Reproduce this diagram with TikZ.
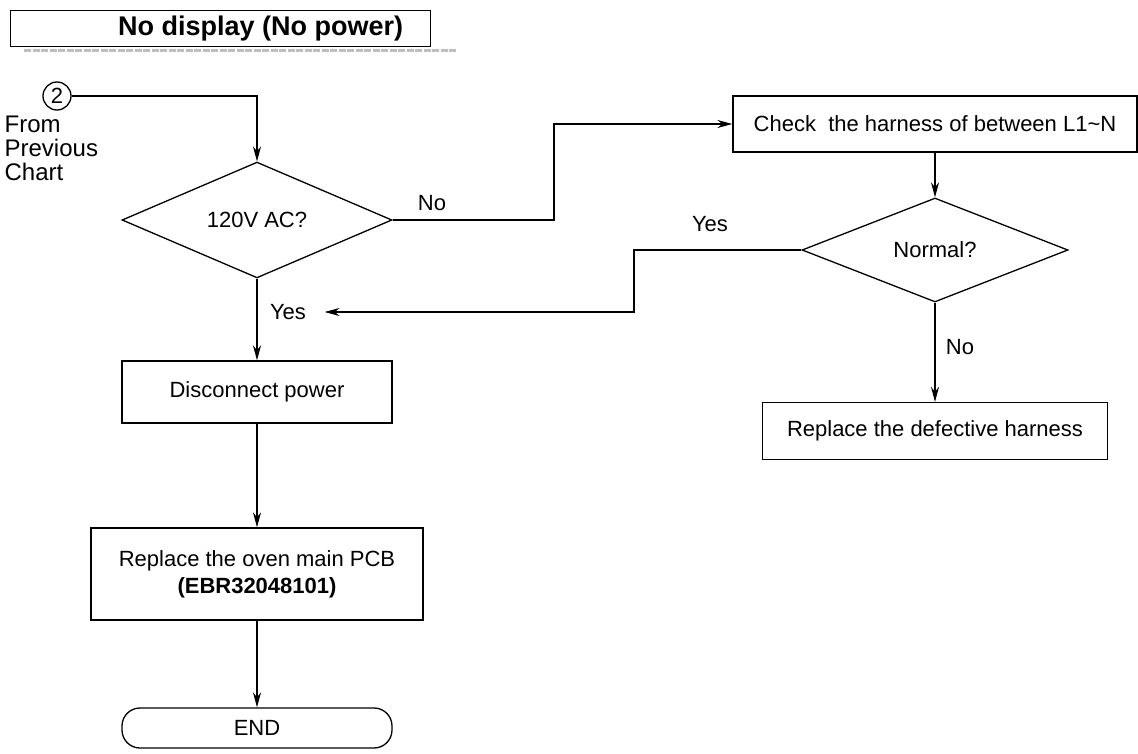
\documentclass[tikz,border=0pt]{standalone}
\usepackage{fontspec}
\setmainfont{Liberation Sans}
\usetikzlibrary{arrows.meta,shapes.geometric,calc,positioning}
\tikzset{
  every picture/.style={line width=1.3pt, line join=miter,
    >={Stealth[length=15pt,width=8pt]}},
  every node/.style={font=\fontsize{22}{27}\selectfont, inner sep=1pt},
  % Kaesten
  box/.style={draw, rectangle, inner sep=0pt},
  dec/.style={draw, diamond, inner sep=0pt},
  term/.style={draw, rectangle, rounded corners=18pt, inner sep=0pt},
  flow/.style={->},
}

\begin{document}
\begin{tikzpicture}[x=1pt, y=-1pt]
  \useasboundingbox (0,0) rectangle (1138,754);
  % Titel
  \node[box, minimum width=420, minimum height=36, anchor=north west,
    font=\fontsize{27}{30}\selectfont\bfseries] (title) at (10,10) {\hspace{80pt}No display (No power)};
  \draw[gray!50, line width=3pt, dash pattern=on 7pt off 1.5pt] (24,51) -- (456,51);
  % Einstieg
  \node[draw, circle, minimum size=28, inner sep=0pt, font=\fontsize{22}{24}\selectfont] (circ) at (57,96) {2};
  \node[anchor=north west, align=left, font=\fontsize{24}{24}\selectfont] (from) at (3,114) {From\\Previous\\Chart};
  % linker Zweig
  \node[dec, minimum width=270, minimum height=112] (d1) at (257,220) {120V AC?};
  \node (no1) at (432,203) {No};
  \node (yes1) at (288,312) {Yes};
  \node[box, minimum width=270, minimum height=62] (disc) at (257,392) {Disconnect power};
  \node[box, minimum width=332, minimum height=92, align=center] (pcb) at (257,574)
    {Replace the oven main PCB\\\textbf{(EBR32048101)}};
  \node[term, minimum width=270, minimum height=40] (fin) at (257,728) {END};
  % rechter Zweig
  \node[box, minimum width=404, minimum height=56] (chk) at (935,124) {Check\ \ the harness of between L1\textasciitilde N};
  \node[dec, minimum width=266, minimum height=104] (d2) at (935,250) {Normal?};
  \node (yes2) at (710,224) {Yes};
  \node (no2) at (960,347) {No};
  \node[box, minimum width=345, minimum height=57] (rep) at (935,431) {Replace the defective harness};
  % Hilfspunkte fuer die Knicke
  \coordinate (jogno) at (554,0);
  \coordinate (jogyes) at (634,0);
  % Verbindungen
  \draw[flow] (circ.east) -| (d1.north);
  \draw[flow] (d1.east) -- (d1.east -| jogno) |- (chk.west);
  \draw[flow] (chk.south) -- (d2.north);
  \draw[flow, shorten >=17pt] (d2.west) -- (d2.west -| jogyes) |- (yes1.east);
  \draw[flow] (d2.south) -- (rep.north);
  \draw[flow] (d1.south) -- (disc.north);
  \draw[flow] (disc.south) -- (pcb.north);
  \draw[flow] (pcb.south) -- (fin.north);
\end{tikzpicture}
\end{document}
